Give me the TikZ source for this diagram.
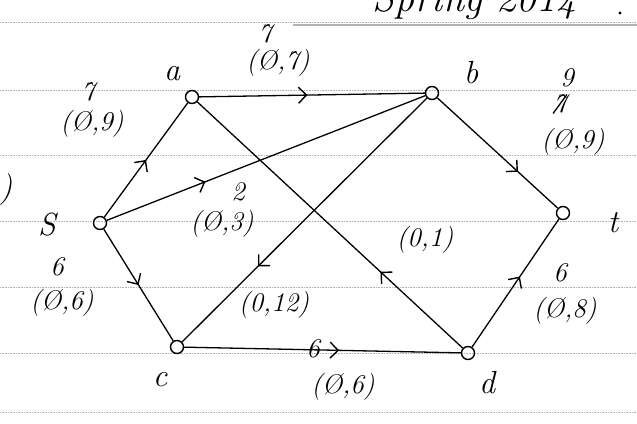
\documentclass[tikz,border=0pt]{standalone}
\usetikzlibrary{arrows.meta,decorations.markings}
\begin{document}
\begin{tikzpicture}[x=1pt,y=-1pt,
  vtx/.style={circle,draw,line width=1.4pt,minimum size=13pt,inner sep=0pt},
  edge/.style={line width=1.3pt},
  midarrow/.style={postaction={decorate},decoration={markings,mark=at position #1 with {\arrow{Straight Barb[length=8pt,width=16pt,line width=1.4pt]}}}},
  hand/.style={font=\fontsize{27}{29}\selectfont\itshape, inner sep=0pt},
  big/.style={font=\fontsize{32}{34}\selectfont\itshape, inner sep=0pt},
  rulel/.style={gray!60,densely dotted,line width=0.6pt}]
\useasboundingbox (0,0) rectangle (637,423);
% ruled paper
\foreach \yy in {22,90,155,221,287,353,412}
  \draw[rulel] (0,\yy) -- (637,\yy);
\draw[gray!60,line width=2.2pt] (293,25) -- (637,25);
\node[font=\fontsize{40}{40}\selectfont\itshape, anchor=base west, inner sep=0pt] (hdr) at (372,12) {Spring 2014};
\fill (620,13) circle (1.6pt);
\node[big] (stray) at (6,190) {)};
% vertices
\node[vtx] (s) at (100,223) {};
\node[vtx] (a) at (192,97) {};
\node[vtx] (b) at (432,93) {};
\node[vtx] (t) at (563,213) {};
\node[vtx] (c) at (177,347) {};
\node[vtx] (d) at (468,353) {};
% vertex letters
\node[big] (ls) at (47,225) {S};
\node[big] (la) at (172,74) {a};
\node[big] (lb) at (471,73) {b};
\node[big] (lt) at (613,223) {t};
\node[big] (lc) at (160,380) {c};
\node[big] (ld) at (487,383) {d};
% edges
\draw[edge,midarrow=0.5] (s) -- (a);
\draw[edge,midarrow=0.31] (s) -- (b);
\draw[edge,midarrow=0.5] (s) -- (c);
\draw[edge,midarrow=0.48] (a) -- (b);
\draw[edge,midarrow=0.67] (b) -- (t);
\draw[edge,midarrow=0.69] (b) -- (c);
\draw[edge,midarrow=0.31] (d) -- (a);
\draw[edge,midarrow=0.56] (c) -- (d);
\draw[edge,midarrow=0.55] (d) -- (t);
% edge labels
\node[hand] (n7a) at (88,92) {7};
\node[hand] (lsa) at (92,124) {(\O,9)};
\node[hand] (n7b) at (265,34) {7};
\node[hand] (lab) at (278,63) {(\O,7)};
\node[hand] (n2) at (238,192) {2};
\node[hand] (lsb) at (222,224) {(\O,3)};
\node[hand] (n6a) at (57,267) {6};
\node[hand] (lsc) at (62,303) {(\O,6)};
\node[hand] (lbc) at (274,305) {(0,12)};
\node[hand] (lda) at (425,240) {(0,1)};
\node[hand] (n9) at (567,78) {9};
\node[hand] (x7) at (560,104) {7};
\draw[line width=1.3pt] (x7.south west) -- (x7.north east);
\node[hand] (lbt) at (573,142) {(\O,9)};
\node[hand] (n6c) at (560,273) {6};
\node[hand] (ldt) at (565,311) {(\O,8)};
\node[hand] (n6b) at (313,349) {6};
\node[hand] (lcd) at (343,387) {(\O,6)};
\end{tikzpicture}
\end{document}
